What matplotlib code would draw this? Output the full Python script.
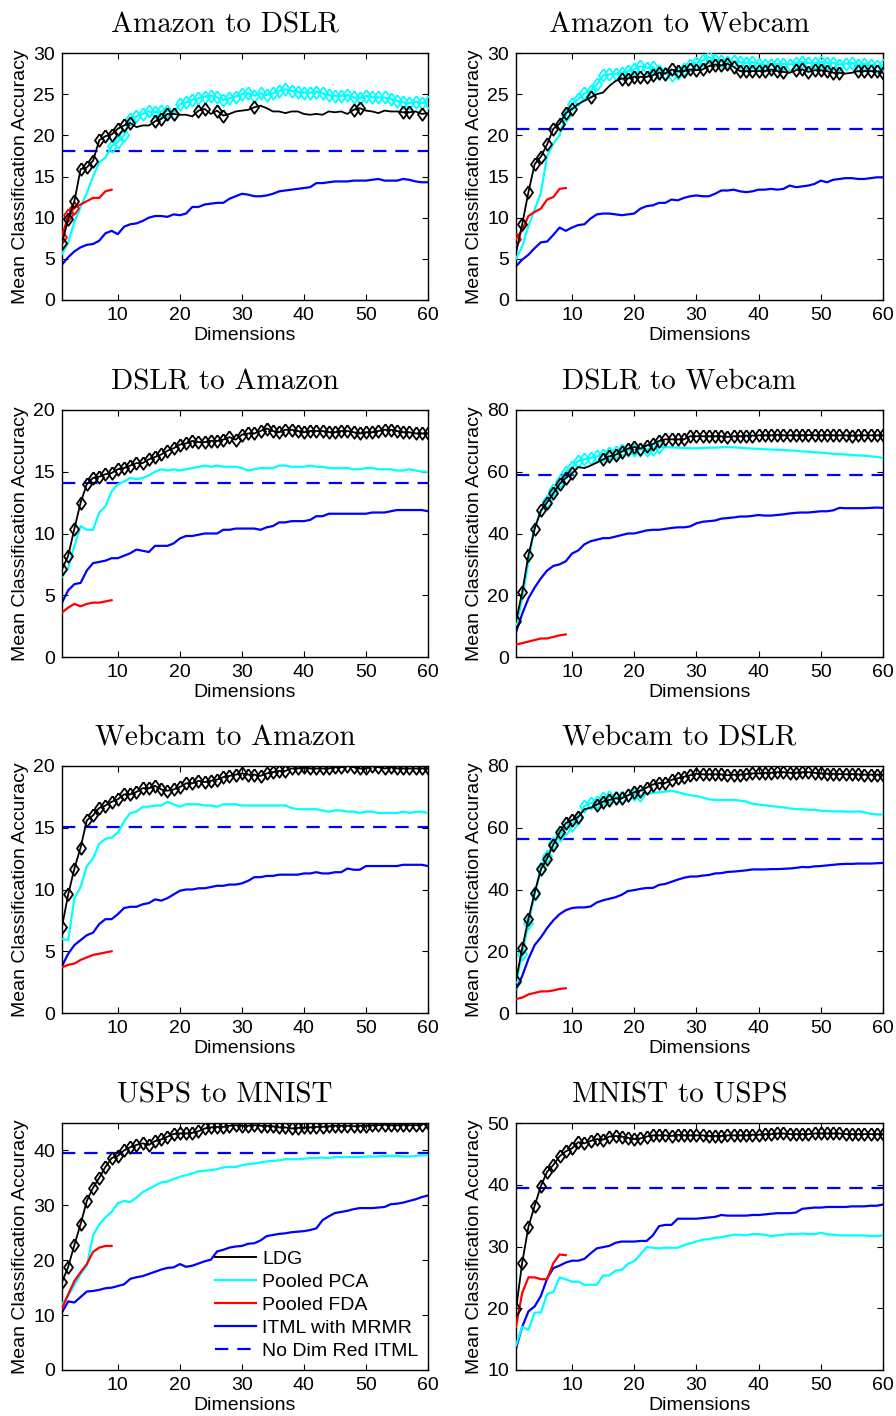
import numpy as np
import matplotlib.pyplot as plt

plt.rcParams['font.family'] = ['Liberation Sans', 'DejaVu Sans']

dims = np.arange(1, 61)
fda_dims = np.arange(1, 10)

legend_labels = ['LDG', 'Pooled PCA', 'Pooled FDA', 'ITML with MRMR', 'No Dim Red ITML']

# ---- Amazon to DSLR
ad_ldg = [6.9, 9.8, 12.0, 15.9, 16.1, 16.9, 19.4, 19.9, 20.1, 20.8, 21.2, 21.5, 21.0, 21.2, 21.2,
          21.7, 22.0, 22.6, 22.6, 22.5, 22.5, 22.3, 23.0, 23.2, 22.6, 23.0, 22.4, 22.6, 22.9, 23.0,
          23.1, 23.4, 23.6, 23.3, 22.9, 22.9, 22.7, 22.9, 22.9, 22.6, 22.5, 22.6, 22.5, 22.9, 22.8,
          22.9, 22.6, 23.1, 23.3, 23.0, 22.9, 22.7, 23.0, 22.9, 22.9, 22.8, 22.8, 22.9, 22.6, 22.7]
ad_pca = [5.6, 7.0, 9.5, 11.3, 13.0, 15.0, 16.7, 17.3, 18.7, 19.2, 20.0, 22.0, 22.3, 22.6, 22.9,
          22.8, 22.9, 23.0, 22.6, 23.8, 24.0, 24.3, 24.5, 24.7, 24.8, 24.6, 24.3, 24.5, 24.7, 25.0,
          25.1, 24.8, 25.1, 24.9, 25.1, 25.4, 25.6, 25.4, 25.3, 25.2, 25.2, 25.3, 25.1, 24.9, 24.8,
          24.8, 24.9, 24.6, 24.5, 24.8, 24.6, 24.6, 24.6, 24.4, 24.2, 24.0, 23.9, 24.1, 23.9, 24.1]
ad_fda = [7.6, 10.3, 11.2, 11.6, 12.0, 12.4, 12.4, 13.2, 13.4]
ad_itml = [4.3, 5.2, 5.9, 6.4, 6.7, 6.8, 7.2, 8.1, 8.4, 8.0, 8.9, 9.2, 9.3, 9.6, 10.0,
           10.2, 10.2, 10.1, 10.4, 10.3, 10.5, 11.3, 11.3, 11.6, 11.7, 11.8, 11.8, 12.3, 12.6, 12.9,
           12.8, 12.6, 12.6, 12.7, 12.9, 13.2, 13.3, 13.4, 13.5, 13.6, 13.7, 14.2, 14.2, 14.3, 14.4,
           14.4, 14.4, 14.5, 14.5, 14.5, 14.6, 14.7, 14.5, 14.5, 14.5, 14.7, 14.6, 14.4, 14.3, 14.3]
ad_base = 18.1
ad_ldg_marks = list(range(1, 13)) + [16, 17, 18, 19, 23, 24, 26, 27, 32, 48, 49, 56, 57, 59]
ad_pca_marks = list(range(9, 61))
ad_fda_marks = [1, 2, 3]

# ---- Amazon to Webcam
aw_ldg = [5.7, 9.2, 13.1, 16.5, 17.4, 18.9, 20.8, 21.4, 22.7, 23.2, 23.8, 24.2, 24.6, 25.0, 25.2,
          26.0, 26.6, 26.9, 26.9, 27.1, 27.1, 27.1, 27.3, 27.6, 27.5, 28.0, 27.8, 27.8, 28.0, 27.9,
          28.0, 28.4, 28.6, 28.5, 28.7, 28.3, 27.8, 27.8, 27.8, 27.8, 27.8, 28.0, 27.8, 27.7, 27.6,
          27.9, 28.0, 27.7, 27.9, 27.9, 27.8, 27.6, 27.6, 27.5, 27.6, 27.8, 27.8, 27.8, 27.8, 27.6]
aw_pca = [5.0, 6.5, 9.0, 11.0, 13.0, 17.5, 19.0, 20.0, 22.5, 23.8, 24.4, 25.1, 25.4, 26.2, 27.3,
          27.4, 27.5, 27.6, 27.8, 28.0, 28.4, 28.2, 28.3, 27.8, 27.6, 27.3, 27.6, 28.0, 28.6, 28.8,
          29.1, 29.5, 29.2, 29.0, 28.9, 29.0, 28.9, 28.8, 28.9, 28.7, 28.6, 28.6, 28.7, 28.7, 28.6,
          28.8, 28.9, 28.8, 28.8, 28.9, 28.8, 28.8, 28.6, 28.7, 28.8, 28.6, 28.7, 28.6, 28.4, 28.5]
aw_fda = [7.4, 8.5, 10.2, 10.7, 11.1, 12.2, 12.5, 13.5, 13.6]
aw_itml = [4.1, 4.9, 5.5, 6.3, 7.0, 7.1, 7.9, 8.8, 8.4, 8.8, 9.1, 9.2, 9.9, 10.4, 10.5,
           10.5, 10.4, 10.3, 10.4, 10.5, 11.1, 11.4, 11.5, 11.8, 11.8, 12.2, 12.1, 12.4, 12.6, 12.7,
           12.6, 12.6, 12.9, 13.3, 13.3, 13.4, 13.2, 13.1, 13.2, 13.4, 13.4, 13.5, 13.4, 13.5, 13.9,
           13.7, 13.8, 13.9, 14.1, 14.5, 14.3, 14.6, 14.7, 14.8, 14.8, 14.7, 14.7, 14.8, 14.9, 14.9]
aw_base = 20.8
aw_ldg_marks = list(range(2, 11)) + [13] + list(range(18, 45)) + list(range(46, 54)) + list(range(56, 61))
aw_pca_marks = list(range(9, 61))
aw_fda_marks = [1]

# ---- DSLR to Amazon
da_ldg = [7.1, 8.2, 10.4, 12.5, 14.0, 14.5, 14.6, 14.8, 14.9, 15.2, 15.3, 15.5, 15.7, 15.7, 16.0,
          16.2, 16.4, 16.7, 16.9, 17.2, 17.3, 17.5, 17.4, 17.4, 17.5, 17.5, 17.6, 17.8, 17.6, 18.0,
          18.1, 18.1, 18.3, 18.5, 18.3, 18.2, 18.4, 18.4, 18.3, 18.2, 18.3, 18.3, 18.3, 18.2, 18.2,
          18.3, 18.3, 18.2, 18.1, 18.2, 18.2, 18.3, 18.4, 18.4, 18.3, 18.2, 18.2, 18.1, 18.1, 18.1]
da_pca = [6.5, 7.2, 9.0, 10.6, 10.3, 10.3, 11.7, 12.2, 13.4, 14.0, 14.2, 14.5, 14.4, 14.5, 14.7,
          15.0, 15.2, 15.1, 15.2, 15.1, 15.2, 15.3, 15.4, 15.5, 15.4, 15.5, 15.4, 15.4, 15.4, 15.3,
          15.1, 15.2, 15.3, 15.3, 15.3, 15.5, 15.5, 15.4, 15.4, 15.4, 15.5, 15.4, 15.4, 15.3, 15.3,
          15.3, 15.3, 15.2, 15.2, 15.3, 15.3, 15.2, 15.2, 15.2, 15.1, 15.1, 15.2, 15.1, 15.0, 15.0]
da_fda = [3.6, 4.0, 4.3, 4.1, 4.3, 4.4, 4.4, 4.5, 4.6]
da_itml = [4.4, 5.4, 5.9, 6.0, 7.0, 7.6, 7.7, 7.8, 8.0, 8.0, 8.2, 8.4, 8.7, 8.6, 8.5,
           9.0, 9.0, 9.0, 9.2, 9.6, 9.8, 9.8, 9.9, 10.0, 10.0, 10.0, 10.3, 10.3, 10.4, 10.4,
           10.4, 10.4, 10.3, 10.5, 10.6, 10.9, 10.9, 11.0, 11.0, 11.0, 11.1, 11.4, 11.4, 11.6, 11.6,
           11.6, 11.6, 11.6, 11.6, 11.6, 11.7, 11.7, 11.7, 11.8, 11.9, 11.9, 11.9, 11.9, 11.9, 11.8]
da_base = 14.1
da_ldg_marks = list(range(1, 61))
da_pca_marks = []
da_fda_marks = []

# ---- DSLR to Webcam
dw_ldg = [11.5, 21.0, 33.0, 41.5, 47.5, 50.0, 53.0, 56.0, 58.0, 59.5, 61.5, 61.2, 62.0, 63.0, 64.0,
          65.0, 65.5, 66.5, 67.5, 68.0, 67.5, 68.5, 69.0, 70.0, 70.5, 70.5, 70.5, 70.5, 71.5, 71.5,
          71.5, 71.5, 71.5, 71.5, 71.3, 71.5, 71.5, 71.7, 71.7, 71.8, 71.8, 71.8, 72.0, 71.8, 71.8,
          71.8, 71.8, 71.9, 71.8, 71.8, 71.9, 71.8, 71.8, 71.8, 71.7, 71.8, 71.8, 71.8, 71.8, 71.8]
dw_pca = [10.0, 19.0, 31.0, 42.0, 47.0, 50.5, 54.0, 57.0, 60.0, 61.5, 63.5, 64.0, 64.5, 65.0, 65.5,
          66.0, 66.5, 67.0, 67.0, 67.0, 67.2, 67.2, 67.5, 68.0, 68.0, 67.9, 67.8, 67.7, 67.6, 67.6,
          67.7, 67.8, 67.8, 67.9, 68.0, 67.9, 67.8, 67.6, 67.5, 67.4, 67.3, 67.2, 67.1, 67.0, 66.9,
          66.8, 66.6, 66.5, 66.3, 66.2, 66.0, 65.8, 65.7, 65.6, 65.4, 65.3, 65.2, 65.0, 64.8, 64.5]
dw_fda = [4.0, 4.5, 5.0, 5.5, 6.0, 6.0, 6.5, 7.0, 7.3]
dw_itml = [8.0, 14.0, 19.0, 22.5, 25.5, 28.0, 29.5, 30.0, 31.0, 33.5, 34.5, 36.5, 37.5, 38.0, 38.5,
           38.5, 39.0, 39.5, 40.0, 40.0, 40.5, 41.0, 41.2, 41.2, 41.5, 41.8, 42.0, 42.0, 42.3, 43.3,
           43.8, 44.0, 44.2, 44.8, 45.0, 45.2, 45.5, 45.5, 45.7, 46.0, 45.8, 45.8, 46.0, 46.2, 46.5,
           46.7, 46.8, 46.8, 47.0, 47.2, 47.2, 47.5, 48.3, 48.2, 48.2, 48.2, 48.2, 48.3, 48.4, 48.3]
dw_base = 59.0
dw_ldg_marks = list(range(1, 11)) + list(range(15, 61))
dw_pca_marks = list(range(6, 25))
dw_fda_marks = []

# ---- Webcam to Amazon
wa_ldg = [7.0, 9.6, 11.7, 13.4, 15.6, 16.0, 16.6, 16.8, 17.1, 17.3, 17.7, 17.7, 17.9, 18.2, 18.2,
          18.4, 18.1, 18.0, 18.1, 18.3, 18.6, 18.6, 18.8, 18.7, 18.8, 18.9, 19.1, 19.2, 19.3, 19.4,
          19.3, 19.3, 19.2, 19.4, 19.5, 19.6, 19.6, 19.8, 19.8, 19.9, 19.8, 19.8, 19.8, 19.8, 19.9,
          19.9, 20.0, 19.9, 19.8, 19.8, 20.0, 19.9, 19.8, 19.9, 19.8, 19.8, 19.8, 19.8, 19.8, 19.8]
wa_pca = [6.0, 5.9, 9.3, 10.2, 11.9, 12.5, 13.7, 14.1, 14.2, 14.6, 15.5, 16.2, 16.3, 16.7, 16.7,
          16.8, 16.8, 17.1, 16.9, 16.7, 16.9, 16.9, 16.9, 16.8, 16.8, 16.7, 16.9, 16.9, 16.9, 16.8,
          16.8, 16.8, 16.8, 16.8, 16.8, 16.8, 16.8, 16.6, 16.5, 16.5, 16.5, 16.5, 16.4, 16.3, 16.4,
          16.4, 16.3, 16.3, 16.2, 16.3, 16.3, 16.2, 16.2, 16.2, 16.2, 16.3, 16.2, 16.3, 16.3, 16.2]
wa_fda = [3.7, 3.9, 4.0, 4.3, 4.5, 4.7, 4.8, 4.9, 5.0]
wa_itml = [3.8, 4.8, 5.5, 5.9, 6.3, 6.5, 7.2, 7.6, 7.6, 8.0, 8.5, 8.6, 8.6, 8.8, 8.9,
           9.2, 9.1, 9.3, 9.6, 9.9, 10.0, 10.0, 10.1, 10.1, 10.2, 10.3, 10.3, 10.4, 10.4, 10.5,
           10.7, 11.0, 11.0, 11.1, 11.1, 11.2, 11.2, 11.2, 11.2, 11.3, 11.3, 11.4, 11.3, 11.3, 11.4,
           11.4, 11.7, 11.6, 11.6, 11.9, 11.9, 11.9, 11.9, 11.9, 11.9, 12.0, 12.0, 12.0, 12.0, 11.9]
wa_base = 15.1
wa_ldg_marks = list(range(1, 61))
wa_pca_marks = []
wa_fda_marks = []

# ---- Webcam to DSLR
wd_ldg = [10.5, 21.0, 30.5, 39.0, 46.5, 50.0, 54.5, 58.5, 61.5, 62.5, 63.5, 66.0, 66.5, 67.5, 68.5,
          69.0, 69.5, 69.5, 70.5, 71.5, 72.0, 73.0, 74.0, 74.5, 74.5, 75.5, 76.0, 76.5, 77.0, 77.5,
          77.3, 77.3, 77.3, 77.3, 77.0, 77.2, 77.2, 77.4, 77.6, 77.6, 77.8, 77.8, 78.0, 78.0, 77.8,
          77.8, 78.0, 78.0, 77.8, 77.6, 77.5, 77.5, 77.4, 77.3, 77.4, 77.3, 77.2, 77.2, 77.2, 77.2]
wd_pca = [10.0, 19.0, 29.0, 38.5, 47.0, 51.0, 55.0, 57.5, 60.0, 61.0, 63.0, 67.0, 68.0, 68.5, 69.5,
          70.0, 70.0, 70.0, 70.5, 71.0, 70.5, 71.0, 71.3, 71.5, 71.7, 72.0, 71.5, 71.0, 70.5, 70.3,
          69.8, 69.2, 69.0, 69.0, 69.0, 69.0, 68.8, 68.5, 67.8, 67.5, 67.3, 67.0, 66.8, 66.6, 66.3,
          66.0, 66.0, 65.8, 65.8, 65.5, 65.4, 65.3, 65.3, 65.2, 65.2, 65.3, 65.0, 64.5, 64.3, 64.3]
wd_fda = [4.5, 5.0, 6.0, 6.5, 7.0, 7.0, 7.3, 7.8, 8.0]
wd_itml = [7.5, 12.0, 17.5, 22.0, 24.5, 27.5, 30.0, 32.0, 33.3, 34.0, 34.2, 34.2, 34.5, 35.8, 36.5,
           37.0, 37.5, 38.3, 39.5, 39.8, 40.2, 40.5, 40.5, 41.5, 41.8, 42.5, 43.2, 43.8, 44.2, 44.2,
           44.5, 44.7, 45.2, 45.3, 45.7, 45.8, 46.0, 46.2, 46.5, 46.5, 46.5, 46.6, 46.6, 46.7, 46.8,
           47.0, 47.3, 47.2, 47.5, 47.6, 47.8, 48.0, 48.2, 48.3, 48.3, 48.4, 48.4, 48.4, 48.5, 48.6]
wd_base = 56.2
wd_ldg_marks = list(range(1, 12)) + list(range(14, 61))
wd_pca_marks = list(range(1, 22))
wd_fda_marks = []

# ---- USPS to MNIST
um_ldg = [16.0, 18.8, 22.8, 26.6, 30.8, 33.2, 35.0, 37.0, 38.6, 39.0, 40.0, 40.6, 41.0, 41.3, 41.0,
          41.7, 42.0, 42.5, 43.0, 43.1, 43.1, 43.2, 43.5, 44.0, 44.2, 44.3, 44.3, 44.5, 44.6, 44.5,
          44.5, 44.6, 44.5, 44.5, 44.4, 44.2, 44.2, 44.0, 44.1, 44.2, 44.2, 44.3, 44.3, 44.4, 44.5,
          44.5, 44.5, 44.4, 44.5, 44.5, 44.6, 44.6, 44.7, 44.6, 44.6, 44.7, 44.6, 44.6, 44.7, 45.0]
um_pca = [12.0, 13.5, 15.5, 17.5, 19.0, 24.5, 26.5, 27.8, 28.8, 30.4, 30.8, 30.6, 31.4, 32.4, 33.0,
          33.6, 34.2, 34.3, 34.8, 35.2, 35.5, 35.8, 36.2, 36.3, 36.4, 36.6, 36.9, 37.0, 37.0, 37.3,
          37.5, 37.6, 37.8, 38.0, 38.1, 38.2, 38.4, 38.4, 38.4, 38.5, 38.6, 38.6, 38.7, 38.6, 38.8,
          38.8, 38.8, 38.8, 38.8, 38.9, 38.9, 38.9, 39.0, 39.0, 39.0, 38.9, 38.9, 39.0, 39.1, 39.1]
um_fda = [11.2, 13.8, 16.2, 17.8, 19.3, 21.5, 22.3, 22.6, 22.6]
um_itml = [10.5, 12.5, 12.3, 13.3, 14.3, 14.4, 14.6, 14.9, 15.0, 15.3, 15.6, 16.6, 16.9, 17.1, 17.5,
           17.9, 18.3, 18.6, 18.7, 19.3, 18.8, 19.0, 19.4, 19.8, 20.1, 21.6, 21.9, 22.3, 22.5, 22.6,
           23.0, 23.1, 23.6, 24.4, 24.6, 24.8, 24.9, 25.1, 25.2, 25.3, 25.5, 25.8, 27.3, 28.0, 28.6,
           28.8, 29.0, 29.3, 29.5, 29.5, 29.5, 29.6, 29.7, 30.2, 30.3, 30.5, 30.8, 31.1, 31.5, 31.8]
um_base = 39.5
um_ldg_marks = list(range(1, 61))
um_pca_marks = []
um_fda_marks = []

# ---- MNIST to USPS
mu_ldg = [19.8, 27.4, 33.2, 36.6, 39.8, 42.1, 43.2, 44.6, 45.4, 45.9, 46.9, 46.7, 47.1, 47.4, 47.3,
          47.8, 47.9, 47.8, 47.6, 47.4, 47.5, 47.8, 48.0, 48.0, 48.0, 47.9, 48.1, 48.0, 48.0, 48.0,
          48.0, 47.9, 47.9, 47.9, 48.0, 48.0, 48.0, 48.0, 48.1, 48.1, 48.2, 48.2, 48.3, 48.3, 48.2,
          48.2, 48.2, 48.2, 48.3, 48.3, 48.3, 48.3, 48.3, 48.2, 48.2, 48.2, 48.2, 48.2, 48.2, 48.2]
mu_pca = [14.0, 17.0, 16.5, 19.3, 19.3, 22.3, 22.6, 25.0, 24.7, 24.3, 24.3, 23.8, 23.8, 23.8, 25.3,
          25.3, 26.1, 26.2, 27.2, 27.6, 28.7, 29.9, 29.8, 29.7, 29.8, 29.8, 29.8, 30.2, 30.5, 30.8,
          31.1, 31.2, 31.4, 31.5, 31.7, 31.9, 31.9, 31.8, 32.0, 32.0, 31.9, 31.7, 31.8, 31.9, 32.0,
          32.0, 32.1, 32.0, 32.0, 32.2, 32.0, 31.9, 31.8, 31.8, 31.8, 31.8, 31.8, 31.7, 31.7, 31.8]
mu_fda = [17.0, 22.5, 25.0, 25.0, 24.7, 24.7, 27.3, 28.7, 28.6]
mu_itml = [13.5, 17.0, 19.5, 20.3, 22.0, 24.8, 26.5, 26.9, 27.4, 27.7, 27.7, 28.0, 28.9, 29.7, 29.9,
           30.1, 30.6, 30.8, 30.8, 30.8, 30.9, 30.9, 31.8, 33.3, 33.5, 33.5, 34.5, 34.5, 34.5, 34.5,
           34.6, 34.7, 34.8, 35.1, 35.0, 35.0, 35.0, 35.0, 35.1, 35.1, 35.2, 35.3, 35.4, 35.4, 35.4,
           35.5, 36.1, 36.2, 36.3, 36.3, 36.4, 36.4, 36.4, 36.4, 36.5, 36.5, 36.5, 36.6, 36.6, 36.8]
mu_base = 39.5
mu_ldg_marks = list(range(1, 61))
mu_pca_marks = []
mu_fda_marks = []

panels = [
    ('Amazon to DSLR', ad_ldg, ad_pca, ad_fda, ad_itml, ad_base, (0, 30), range(0, 31, 5),
     ad_ldg_marks, ad_pca_marks, ad_fda_marks),
    ('Amazon to Webcam', aw_ldg, aw_pca, aw_fda, aw_itml, aw_base, (0, 30), range(0, 31, 5),
     aw_ldg_marks, aw_pca_marks, aw_fda_marks),
    ('DSLR to Amazon', da_ldg, da_pca, da_fda, da_itml, da_base, (0, 20), range(0, 21, 5),
     da_ldg_marks, da_pca_marks, da_fda_marks),
    ('DSLR to Webcam', dw_ldg, dw_pca, dw_fda, dw_itml, dw_base, (0, 80), range(0, 81, 20),
     dw_ldg_marks, dw_pca_marks, dw_fda_marks),
    ('Webcam to Amazon', wa_ldg, wa_pca, wa_fda, wa_itml, wa_base, (0, 20), range(0, 21, 5),
     wa_ldg_marks, wa_pca_marks, wa_fda_marks),
    ('Webcam to DSLR', wd_ldg, wd_pca, wd_fda, wd_itml, wd_base, (0, 80), range(0, 81, 20),
     wd_ldg_marks, wd_pca_marks, wd_fda_marks),
    ('USPS to MNIST', um_ldg, um_pca, um_fda, um_itml, um_base, (0, 45), range(0, 41, 10),
     um_ldg_marks, um_pca_marks, um_fda_marks),
    ('MNIST to USPS', mu_ldg, mu_pca, mu_fda, mu_itml, mu_base, (10, 50), range(10, 51, 10),
     mu_ldg_marks, mu_pca_marks, mu_fda_marks),
]

W, H = 896, 1416
fig = plt.figure(figsize=(W / 100, H / 100), dpi=100)

col_left = [62, 516]
col_width = [366, 367]
row_bottom = [300, 657, 1013, 1370]
ax_height = 247

# matlab-like diamond, a bit wider than matplotlib's thin one
diamond = [(0, 1), (0.72, 0), (0, -1), (-0.72, 0), (0, 1)]
mk = dict(marker=diamond, markersize=9, markerfacecolor='none', markeredgewidth=1.3)

for i, (title, ldg, pca, fda, itml, base, ylim, yticks, m_ldg, m_pca, m_fda) in enumerate(panels):
    r, c = divmod(i, 2)
    ax = fig.add_axes([col_left[c] / W, 1 - row_bottom[r] / H, col_width[c] / W, ax_height / H])

    ax.plot(dims, itml, color='#0000ff', lw=1.6, zorder=2)
    ax.plot(dims, pca, color='#00ffff', lw=1.6, zorder=3,
            markevery=[d - 1 for d in m_pca], **(mk if m_pca else {}))
    ax.plot(fda_dims, fda, color='#ff0000', lw=1.6, zorder=4,
            markevery=[d - 1 for d in m_fda], **(mk if m_fda else {}))
    ax.plot(dims, ldg, color='black', lw=1.3, zorder=5,
            markevery=[d - 1 for d in m_ldg], **mk)
    ax.axhline(base, color='#0000ff', lw=1.6, ls=(0, (6, 4)), zorder=1)

    ax.set_xlim(1, 60)
    ax.set_ylim(*ylim)
    ax.set_xticks(range(10, 61, 10))
    ax.set_yticks(list(yticks))
    ax.tick_params(direction='in', top=True, right=True, length=4, labelsize=14, pad=5)
    for s in ax.spines.values():
        s.set_linewidth(1.0)

    ax.set_xlabel('Dimensions', fontsize=14, labelpad=2)
    ax.set_ylabel('Mean Classification Accuracy', fontsize=14, labelpad=3)
    ax.set_title(title, fontfamily='cmr10', fontsize=21, pad=15, x=0.445)

    if i == 6:
        handles = [
            plt.Line2D([], [], color='black', lw=1.4),
            plt.Line2D([], [], color='#00ffff', lw=1.6),
            plt.Line2D([], [], color='#ff0000', lw=1.6),
            plt.Line2D([], [], color='#0000ff', lw=1.6),
            plt.Line2D([], [], color='#0000ff', lw=1.6, ls=(0, (6, 4))),
        ]
        ax.legend(handles, legend_labels, loc='lower right', frameon=False, fontsize=14,
                  handlelength=2.1, handletextpad=0.3, labelspacing=0.28, borderaxespad=0.1)

fig.savefig('out.png', dpi=100)
